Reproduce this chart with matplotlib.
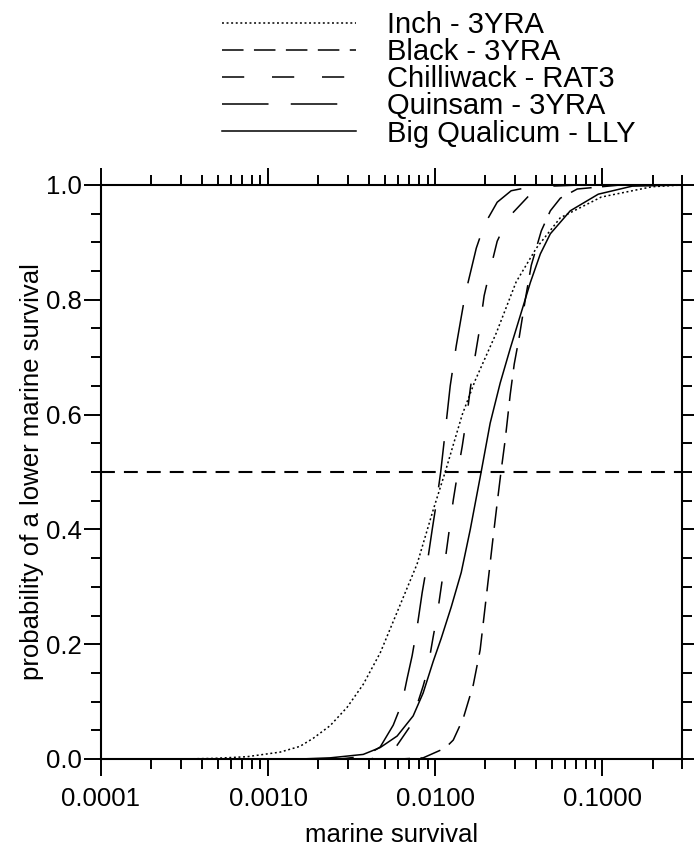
import numpy as np
import matplotlib
matplotlib.use("Agg")
import matplotlib.pyplot as plt
from matplotlib.ticker import LogLocator, MultipleLocator, FormatStrFormatter, NullFormatter

plt.rcParams['font.family'] = ['Liberation Sans', 'DejaVu Sans']
plt.rcParams['lines.scale_dashes'] = False

inch_x = [0.0001, 0.000297, 0.000469, 0.000748, 0.00118, 0.00155, 0.00186, 0.00235, 0.00297,
          0.00371, 0.00469, 0.0078, 0.00973, 0.01148, 0.01452, 0.01738, 0.0232, 0.0305,
          0.0403, 0.0561, 0.0986, 0.199, 0.3]
inch_y = [0.0, 0.0, 0.001, 0.004, 0.012, 0.022, 0.036, 0.058, 0.09,
          0.13, 0.185, 0.34, 0.434, 0.50, 0.60, 0.66, 0.742, 0.831,
          0.89, 0.943, 0.979, 0.997, 1.0]

black_x = [0.0001, 0.00617, 0.00847, 0.01148, 0.01283, 0.01473, 0.0169, 0.01858, 0.0199,
           0.02104, 0.02223, 0.0235, 0.02483, 0.02624, 0.02812, 0.02972, 0.03184, 0.03459,
           0.03758, 0.04315, 0.04887, 0.0561, 0.0708, 0.1282, 0.3]
black_y = [0.0, 0.0, 0.002, 0.019, 0.033, 0.071, 0.129, 0.19, 0.265,
           0.326, 0.387, 0.446, 0.503, 0.556, 0.635, 0.688, 0.735, 0.80,
           0.86, 0.92, 0.955, 0.977, 0.993, 1.0, 1.0]

chilli_x = [0.0001, 0.00408, 0.00502, 0.00592, 0.00708, 0.00847, 0.00895, 0.00973, 0.01028,
            0.01102, 0.01148, 0.0123, 0.01283, 0.01374, 0.01452, 0.01556, 0.01622, 0.01738,
            0.01832, 0.01963, 0.02104, 0.0235, 0.02735, 0.0371, 0.04887, 0.0738, 0.3]
chilli_y = [0.0, 0.0, 0.005, 0.024, 0.057, 0.127, 0.152, 0.213, 0.251,
            0.312, 0.347, 0.411, 0.451, 0.505, 0.545, 0.603, 0.645, 0.704,
            0.744, 0.807, 0.845, 0.902, 0.943, 0.984, 0.998, 1.0, 1.0]

quinsam_x = [0.0001, 0.0027, 0.00381, 0.00469, 0.00561, 0.00634, 0.00679, 0.00728, 0.0078,
             0.00836, 0.00895, 0.0096, 0.01021, 0.01079, 0.01148, 0.0123, 0.01337, 0.01432,
             0.01514, 0.01762, 0.01963, 0.0235, 0.0285, 0.0426, 0.3]
quinsam_y = [0.0, 0.0, 0.005, 0.021, 0.059, 0.098, 0.14, 0.18, 0.23,
             0.29, 0.34, 0.40, 0.45, 0.50, 0.57, 0.65, 0.72, 0.77,
             0.81, 0.89, 0.93, 0.97, 0.99, 1.0, 1.0]

bigq_x = [0.0001, 0.001556, 0.00235, 0.00371, 0.00469, 0.00592, 0.00738, 0.00847, 0.00973,
          0.01086, 0.01248, 0.01432, 0.01622, 0.01884, 0.02133, 0.02449, 0.02812, 0.0337,
          0.0371, 0.0426, 0.04887, 0.0643, 0.0946, 0.151, 0.3]
bigq_y = [0.0, 0.0, 0.002, 0.008, 0.02, 0.04, 0.075, 0.115, 0.17,
          0.21, 0.265, 0.325, 0.40, 0.50, 0.585, 0.655, 0.715, 0.79,
          0.83, 0.88, 0.915, 0.955, 0.984, 0.998, 1.0]

labels = ['Inch - 3YRA', 'Black - 3YRA', 'Chilliwack - RAT3', 'Quinsam - 3YRA', 'Big Qualicum - LLY']
median_line = 0.5

# Strichmuster in Punkten (1 pt = 1.39 px bei dpi 100)
stile = [(0, (1.4, 1.9)),
         (0, (15.5, 7.5)),
         (0, (16, 20)),
         (0, (33.5, 16)),
         '-']

fig = plt.figure(figsize=(6.94, 8.48), dpi=100)
ax = fig.add_axes([101/694, 1 - 759/848, 581/694, 574/848])

kurven = [(inch_x, inch_y), (black_x, black_y), (chilli_x, chilli_y),
          (quinsam_x, quinsam_y), (bigq_x, bigq_y)]
for (x, y), ls, lab in zip(kurven, stile, labels):
    ax.plot(x, y, color='black', lw=1.1, linestyle=ls, label=lab)

ax.axhline(median_line, color='black', lw=1.5, linestyle=(0, (10, 6.5)))

ax.set_xscale('log')
ax.set_xlim(0.0001, 0.3)
ax.set_ylim(0, 1)

ax.xaxis.set_major_locator(LogLocator(base=10, numticks=10))
ax.xaxis.set_minor_locator(LogLocator(base=10, subs=np.arange(2, 10), numticks=10))
ax.xaxis.set_major_formatter(FormatStrFormatter('%.4f'))
ax.xaxis.set_minor_formatter(NullFormatter())
ax.yaxis.set_major_locator(MultipleLocator(0.2))
ax.yaxis.set_minor_locator(MultipleLocator(0.05))
ax.yaxis.set_major_formatter(FormatStrFormatter('%.1f'))

for s in ax.spines.values():
    s.set_linewidth(1.5)
ax.tick_params(which='both', direction='out', top=True, right=True, width=1.4, labelsize=18.5)
ax.tick_params(which='major', length=12)
ax.tick_params(which='minor', length=7)
ax.tick_params(axis='x', pad=8.5)
ax.tick_params(axis='y', pad=2)

ax.set_xlabel('marine survival', fontsize=18.5, labelpad=8)
ax.set_ylabel('probability of a lower marine survival', fontsize=18.5, labelpad=1)

ax.legend(loc='upper left', bbox_to_anchor=(222/694, 1 - 11/848), bbox_transform=fig.transFigure,
          frameon=False, fontsize=21, handlelength=4.6, handletextpad=1.05,
          labelspacing=-0.03, borderpad=0, borderaxespad=0)

fig.savefig('out.png', dpi=100)
